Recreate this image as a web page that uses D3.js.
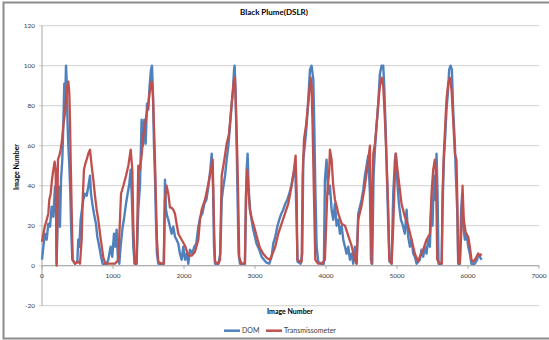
<!DOCTYPE html>
<html><head><meta charset="utf-8">
<script src="https://cdn.jsdelivr.net/npm/d3@7"></script>
<style>body{margin:0;background:#fff;}svg{display:block;font-family:Lato,"Open Sans",sans-serif;}</style>
</head><body>
<svg id="c" width="549" height="340"></svg>
<script>
const title = "Black Plume(DSLR)";
const xTitle = "Image Number";
const yTitle = "Image Number";
const seriesNames = ["DOM", "Transmissometer"];
const xTicks = [0,1000,2000,3000,4000,5000,6000,7000];
const yTicks = [-20,0,20,40,60,80,100,120];

const transX = [0,19,42,66,89,103,122,141,160,178,192,206,225,244,263,282,300,319,338,357,371,385,394,404,418,432,465,511,535,559,573,591,610,629,652,676,699,723,746,770,793,817,840,864,892,958,1028,1075,1098,1113,1146,1183,1216,1249,1272,1286,1305,1333,1356,1380,1403,1427,1450,1474,1497,1521,1544,1563,1577,1591,1605,1619,1638,1685,1713,1732,1755,1779,1802,1826,1849,1873,1896,1920,1967,2014,2061,2108,2155,2202,2225,2249,2296,2343,2380,2404,2423,2437,2484,2507,2531,2568,2601,2634,2671,2704,2718,2732,2751,2764,2778,2811,2858,2872,2891,2910,2929,2952,2985,3022,3069,3116,3163,3210,3248,3281,3328,3375,3422,3469,3516,3549,3572,3587,3596,3633,3657,3671,3690,3718,3750,3783,3797,3811,3830,3849,3891,3938,3985,4018,4046,4055,4079,4102,4126,4149,4173,4220,4267,4313,4360,4407,4431,4454,4501,4548,4586,4619,4642,4666,4689,4712,4736,4759,4783,4806,4830,4853,4877,4891,4924,4947,4980,5017,5064,5111,5158,5205,5252,5299,5322,5369,5416,5463,5486,5510,5533,5547,5557,5566,5604,5632,5641,5660,5679,5697,5721,5744,5768,5791,5815,5838,5848,5862,5885,5909,5923,5941,5970,6003,6026,6049,6073,6096,6120,6143,6167,6190];
const transY = [12,16,20,23,26,33,36,43,48,52,48,0,53,55,58,63,70,75,83,90,92,86,73,53,28,3,1,2,1,13,33,48,51,53,56,58,50,43,35,28,23,16,10,4,1,1,1,3,23,36,40,45,50,58,48,20,1,1,50,48,55,65,70,76,81,88,92,85,70,53,33,13,2,1,1,33,40,36,29,29,28,26,21,16,13,10,5,5,7,13,23,28,33,41,48,53,20,2,1,3,45,53,61,66,81,93,94,78,55,33,4,1,1,36,48,36,28,24,20,15,9,6,4,3,6,9,16,21,26,31,40,48,55,36,3,2,2,45,63,70,81,94,90,70,36,3,1,1,3,36,48,58,53,40,33,30,26,21,20,15,10,3,1,23,30,40,50,60,1,56,61,70,81,90,94,90,73,53,28,3,1,20,56,45,31,24.5,20,13,6,2,4.5,8,13,16,36,48,53,48,28,3,1,1,36,56,70,83,91,94,88,73,56,53,36,3,1,20,40,23,16,14.5,9.5,3,2,3,4.5,6,5,6];

const domX = [0,19,42,66,89,113,136,160,183,197,206,225,244,253,268,286,300,314,324,338,347,361,371,385,399,413,427,465,497,511,526,544,563,582,605,629,652,676,690,709,732,760,779,807,831,854,911,934,967,990,1014,1032,1051,1070,1089,1107,1136,1159,1183,1206,1230,1249,1267,1286,1305,1333,1356,1380,1403,1422,1441,1460,1479,1497,1516,1535,1549,1563,1577,1591,1605,1619,1638,1685,1718,1732,1746,1765,1779,1802,1826,1849,1873,1896,1920,1943,1967,1990,2014,2037,2061,2084,2117,2145,2173,2202,2230,2258,2286,2315,2343,2371,2390,2409,2423,2437,2484,2512,2531,2554,2578,2601,2625,2648,2671,2690,2705,2713,2727,2741,2755,2769,2788,2858,2882,2896,2910,2929,2952,2975,2999,3022,3060,3093,3126,3163,3201,3234,3257,3286,3314,3342,3370,3398,3427,3455,3483,3511,3539,3567,3587,3600,3643,3666,3680,3704,3727,3750,3774,3797,3821,3835,3849,3868,3891,3938,3970,3985,4008,4032,4055,4079,4102,4126,4149,4173,4196,4220,4243,4267,4290,4313,4337,4360,4384,4407,4431,4454,4478,4501,4525,4548,4572,4595,4619,4633,4651,4670,4689,4712,4736,4759,4783,4806,4820,4839,4858,4877,4895,4924,4947,4971,4985,5008,5027,5055,5083,5111,5135,5158,5182,5205,5229,5252,5276,5322,5345,5369,5392,5416,5439,5463,5486,5500,5519,5538,5557,5571,5585,5627,5641,5660,5679,5697,5716,5735,5754,5773,5791,5815,5829,5848,5862,5885,5904,5918,5932,5956,5979,6003,6026,6049,6096,6129,6143,6167,6190];
const domY = [3,9.5,16,13,21,19.5,29.5,24.5,39.5,31,1,29.5,39.5,19.5,43,53,70,91,78,100,93,70,60,50,36,16,3,1,2,13,9.5,23,28,33,36,35,39.5,45,36,31,26,21,14.5,9.5,4.5,1,1,3,9.5,4.5,16,9.5,18,3,1,9.5,19.5,24.5,31,36,41,48,33,9.5,1,1,28,40,73,60,73,61,81,78,90,98,100,86,61,45,23,6,1,1,1,43,28,24.5,23,19.5,16,19.5,14.5,13,11,6,3,9.5,3,6,1,8,6,9.5,11,19.5,24.5,26,31,33,39.5,48,56,39.5,9.5,1,1,6,33,39.5,45,53,60,70,80,88,98,100,86,61,33,6,1,1,48,56,39.5,28,23,18,14.5,11,8,4.5,3,1.5,1,4.5,11,14.5,19.5,23,26,28,31,33,36,40,45,50,20,2,1,6,53,61,70,83,98,100,93,70,40,9.5,2,1,1,43,53,36,40,28,23,31,20,23,16,20,13,9.5,6,9.5,3,6,1,9.5,1,26,29.5,33,38,45,50,55,36,3,1,45,58,70,81,96,100,100,90,70,45,20,2,1,36,53,56,40,31,23,20,16,28,14.5,9.5,13,6,4.5,1,3,8,4.5,9.5,6,13,9.5,33,20,45,33,56,36,1,1,28,53,64.5,78,86,98,100,98,78,61,45,28,1,1,28,36,20,13,16,9.5,6,1,1,3,6,4.5,3];

const svg = d3.select("#c");
const x = d3.scaleLinear().domain([0,7000]).range([42,539]);
const y = d3.scaleLinear().domain([-20,120]).range([305.7,25.7]);

// frame
svg.append("path").attr("d","M549,2.5 H3.5 V338.5 H549").attr("fill","none").attr("stroke","#8c8c8c").attr("stroke-width",2);

// gridlines
svg.append("g").selectAll("line").data(yTicks).join("line")
  .attr("x1",39).attr("x2",x(7000)).attr("y1",d=>y(d)).attr("y2",d=>y(d))
  .attr("stroke","#d0d0d0").attr("stroke-width",1);

// axes
svg.append("line").attr("x1",x(0)).attr("x2",x(0)).attr("y1",y(120)).attr("y2",y(-20)).attr("stroke","#a6a6a6");
svg.append("line").attr("x1",x(0)).attr("x2",x(7000)).attr("y1",y(0)).attr("y2",y(0)).attr("stroke","#a6a6a6");
svg.append("g").selectAll("line").data(xTicks).join("line")
  .attr("x1",d=>x(d)).attr("x2",d=>x(d)).attr("y1",y(0)).attr("y2",y(0)+3).attr("stroke","#a6a6a6");

svg.append("g").selectAll("text").data(yTicks).join("text")
  .attr("x",35).attr("y",d=>y(d)).attr("dy","0.35em").attr("text-anchor","end")
  .attr("font-size",6.5).attr("fill","#404040").text(d=>d);
svg.append("g").selectAll("text").data(xTicks).join("text")
  .attr("x",d=>x(d)).attr("y",y(0)+10).attr("dy","0.35em").attr("text-anchor","middle")
  .attr("font-size",6.5).attr("fill","#404040").text(d=>d);

// titles
svg.append("text").attr("x",274).attr("y",12).attr("dy","0.35em").attr("text-anchor","middle")
  .attr("font-size",8).attr("font-weight","bold").attr("fill","#000").text(title);
svg.append("text").attr("x",290).attr("y",311.7).attr("dy","0.35em").attr("text-anchor","middle")
  .attr("font-size",7).attr("font-weight","bold").text(xTitle);
svg.append("text").attr("transform","translate(17,167) rotate(-90)").attr("dy","0.35em").attr("text-anchor","middle")
  .attr("font-size",7).attr("font-weight","bold").text(yTitle);

// series
const line = d3.line().x(d=>x(d[0])).y(d=>y(d[1]));
const domData = domX.map((v,i)=>[v,domY[i]]);
const trData = transX.map((v,i)=>[v,transY[i]]);
const colors = ["#4f81bd","#c0504d"];
svg.append("path").datum(domData).attr("d",line).attr("fill","none").attr("stroke",colors[0]).attr("stroke-width",2.4).attr("stroke-linejoin","round");
svg.append("path").datum(trData).attr("d",line).attr("fill","none").attr("stroke",colors[1]).attr("stroke-width",2.3).attr("stroke-linejoin","round");

// legend
const leg = svg.append("g");
const lx = [224, 266];
seriesNames.forEach((n,i)=>{
  leg.append("line").attr("x1",lx[i]).attr("x2",lx[i]+16).attr("y1",330.7).attr("y2",330.7).attr("stroke",colors[i]).attr("stroke-width",2.5);
  leg.append("text").attr("x",lx[i]+18).attr("y",330.7).attr("dy","0.35em").attr("font-size",7).attr("fill","#404040").text(n);
});
</script>
</body></html>
